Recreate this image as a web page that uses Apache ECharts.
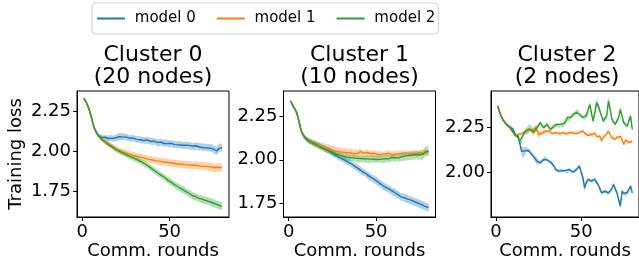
<!DOCTYPE html>
<html>
<head>
<meta charset="utf-8">
<script src="https://cdn.jsdelivr.net/npm/echarts@6/dist/echarts.min.js"></script>
<style>
html, body { margin: 0; padding: 0; background: #fff; }
#main { width: 639px; height: 264px; }
</style>
</head>
<body>
<div id="main"></div>
<script>
// communication rounds (x)
var rounds = [1,2,3,4,5,6,7,8,9,10,11,12,13,14,15,16,17,18,19,20,
	21,22,23,24,25,26,27,28,29,30,31,32,33,34,35,36,37,38,39,40,
	41,42,43,44,45,46,47,48,49,50,51,52,53,54,55,56,57,58,59,60,
	61,62,63,64,65,66,67,68,69,70,71,72,73,74,75,76,77,78,79,80];

var modelNames = ['model 0', 'model 1', 'model 2'];
var clusterTitles = ['Cluster 0\n(20 nodes)', 'Cluster 1\n(10 nodes)', 'Cluster 2\n(2 nodes)'];
var xTicks = [0, 50];
var yTicks = [[1.75, 2.00, 2.25], [1.75, 2.00, 2.25], [2.00, 2.25]];

// Cluster 0 (20 nodes)
var c0m0 = [2.331,2.312,2.288,2.258,2.218,2.176,2.142,2.118,2.102,2.092,
	2.085,2.082,2.086,2.080,2.078,2.083,2.079,2.077,2.081,2.084,
	2.090,2.093,2.088,2.091,2.087,2.083,2.080,2.078,2.082,2.076,
	2.073,2.075,2.070,2.068,2.066,2.064,2.069,2.065,2.061,2.058,
	2.062,2.057,2.054,2.051,2.055,2.050,2.047,2.052,2.046,2.044,
	2.048,2.043,2.040,2.042,2.038,2.041,2.036,2.034,2.037,2.032,
	2.035,2.030,2.031,2.027,2.033,2.029,2.025,2.028,2.022,2.026,
	2.020,2.023,2.018,2.021,2.012,2.005,2.000,2.015,2.022,2.020];
var c0m0Std = [0.006,0.006,0.007,0.008,0.009,0.010,0.011,0.012,0.013,0.014,
	0.015,0.016,0.017,0.018,0.019,0.018,0.020,0.019,0.021,0.022,
	0.024,0.023,0.021,0.022,0.020,0.021,0.019,0.020,0.021,0.020,
	0.019,0.021,0.020,0.022,0.021,0.020,0.022,0.021,0.020,0.022,
	0.021,0.020,0.022,0.023,0.021,0.020,0.022,0.021,0.023,0.022,
	0.021,0.022,0.023,0.021,0.022,0.023,0.022,0.021,0.023,0.022,
	0.023,0.022,0.021,0.023,0.024,0.022,0.023,0.022,0.024,0.023,
	0.022,0.024,0.023,0.025,0.024,0.026,0.025,0.024,0.025,0.024];
var c0m1 = [2.330,2.309,2.292,2.262,2.221,2.179,2.139,2.115,2.099,2.088,
	2.078,2.070,2.062,2.055,2.046,2.040,2.032,2.024,2.017,2.010,
	2.004,2.000,1.995,1.992,1.988,1.984,1.980,1.977,1.973,1.970,
	1.967,1.964,1.962,1.959,1.957,1.954,1.951,1.949,1.946,1.944,
	1.942,1.940,1.938,1.937,1.935,1.933,1.931,1.930,1.928,1.926,
	1.925,1.923,1.922,1.921,1.919,1.918,1.917,1.915,1.914,1.915,
	1.913,1.912,1.911,1.910,1.912,1.908,1.907,1.909,1.905,1.903,
	1.904,1.900,1.902,1.899,1.897,1.893,1.898,1.895,1.897,1.896];
var c0m1Std = [0.006,0.006,0.007,0.007,0.008,0.009,0.010,0.011,0.012,0.012,
	0.013,0.013,0.014,0.014,0.015,0.015,0.016,0.016,0.017,0.017,
	0.018,0.018,0.018,0.019,0.019,0.019,0.020,0.020,0.020,0.020,
	0.021,0.020,0.021,0.021,0.020,0.021,0.022,0.021,0.021,0.022,
	0.021,0.022,0.022,0.021,0.022,0.023,0.022,0.022,0.023,0.022,
	0.023,0.023,0.022,0.023,0.024,0.023,0.023,0.024,0.023,0.024,
	0.024,0.025,0.024,0.024,0.025,0.024,0.025,0.025,0.026,0.025,
	0.025,0.026,0.026,0.025,0.026,0.027,0.026,0.026,0.027,0.026];
var c0m2 = [2.329,2.310,2.289,2.259,2.223,2.181,2.141,2.120,2.097,2.086,
	2.075,2.065,2.056,2.048,2.040,2.033,2.026,2.018,2.011,2.005,
	1.999,1.993,1.988,1.983,1.978,1.972,1.967,1.963,1.958,1.953,
	1.948,1.942,1.937,1.931,1.926,1.919,1.911,1.906,1.896,1.888,
	1.880,1.872,1.864,1.856,1.849,1.842,1.836,1.826,1.818,1.810,
	1.803,1.796,1.788,1.781,1.775,1.768,1.762,1.756,1.749,1.742,
	1.736,1.729,1.722,1.717,1.713,1.708,1.704,1.701,1.697,1.694,
	1.690,1.687,1.683,1.679,1.675,1.670,1.666,1.662,1.657,1.655];
var c0m2Std = [0.006,0.006,0.007,0.007,0.008,0.009,0.010,0.011,0.011,0.012,
	0.012,0.013,0.013,0.013,0.014,0.014,0.014,0.015,0.015,0.015,
	0.015,0.016,0.016,0.016,0.016,0.017,0.017,0.017,0.017,0.017,
	0.018,0.018,0.017,0.018,0.018,0.018,0.019,0.018,0.019,0.019,
	0.019,0.019,0.020,0.019,0.020,0.020,0.020,0.021,0.020,0.021,
	0.021,0.020,0.021,0.021,0.022,0.021,0.022,0.022,0.021,0.022,
	0.022,0.023,0.022,0.023,0.023,0.022,0.023,0.024,0.023,0.024,
	0.024,0.023,0.024,0.025,0.024,0.025,0.025,0.024,0.025,0.025];

// Cluster 1 (10 nodes)
var c1m0 = [2.336,2.317,2.299,2.281,2.254,2.214,2.171,2.147,2.131,2.119,
	2.110,2.104,2.100,2.094,2.090,2.086,2.083,2.077,2.072,2.068,
	2.062,2.057,2.051,2.044,2.037,2.031,2.026,2.020,2.014,2.008,
	2.003,1.998,1.992,1.987,1.983,1.976,1.970,1.962,1.955,1.948,
	1.941,1.934,1.927,1.922,1.912,1.907,1.901,1.894,1.887,1.882,
	1.872,1.866,1.859,1.852,1.846,1.840,1.834,1.830,1.820,1.817,
	1.811,1.805,1.799,1.790,1.788,1.784,1.779,1.776,1.772,1.770,
	1.763,1.761,1.757,1.753,1.748,1.744,1.739,1.735,1.730,1.728];
var c1m0Std = [0.006,0.006,0.007,0.008,0.009,0.010,0.011,0.012,0.012,0.013,
	0.013,0.014,0.014,0.015,0.015,0.016,0.015,0.016,0.016,0.017,
	0.016,0.017,0.017,0.016,0.017,0.018,0.017,0.018,0.018,0.017,
	0.018,0.018,0.019,0.018,0.019,0.019,0.018,0.019,0.019,0.020,
	0.019,0.020,0.020,0.019,0.020,0.020,0.021,0.020,0.020,0.021,
	0.021,0.020,0.021,0.021,0.022,0.021,0.021,0.022,0.021,0.022,
	0.022,0.021,0.022,0.022,0.023,0.022,0.022,0.023,0.022,0.023,
	0.023,0.022,0.023,0.023,0.024,0.023,0.024,0.023,0.024,0.024];
var c1m1 = [2.334,2.319,2.297,2.283,2.256,2.216,2.169,2.149,2.129,2.121,
	2.113,2.107,2.102,2.097,2.092,2.088,2.083,2.078,2.074,2.077,
	2.068,2.064,2.066,2.058,2.055,2.057,2.050,2.052,2.046,2.049,
	2.044,2.047,2.041,2.045,2.040,2.043,2.036,2.041,2.034,2.039,
	2.046,2.035,2.038,2.033,2.040,2.031,2.036,2.030,2.037,2.032,
	2.029,2.035,2.031,2.028,2.034,2.030,2.037,2.033,2.029,2.035,
	2.032,2.038,2.034,2.031,2.037,2.033,2.039,2.035,2.032,2.038,
	2.036,2.041,2.037,2.034,2.040,2.043,2.038,2.045,2.041,2.044];
var c1m1Std = [0.006,0.006,0.007,0.008,0.009,0.010,0.011,0.012,0.013,0.014,
	0.015,0.016,0.017,0.018,0.019,0.020,0.021,0.022,0.021,0.023,
	0.022,0.024,0.023,0.022,0.024,0.023,0.022,0.024,0.023,0.022,
	0.021,0.023,0.022,0.021,0.022,0.020,0.021,0.022,0.020,0.021,
	0.020,0.021,0.019,0.020,0.021,0.019,0.020,0.018,0.019,0.020,
	0.018,0.019,0.018,0.017,0.018,0.019,0.018,0.017,0.018,0.017,
	0.016,0.017,0.018,0.017,0.016,0.017,0.016,0.015,0.016,0.017,
	0.016,0.015,0.016,0.015,0.016,0.015,0.016,0.015,0.016,0.015];
var c1m2 = [2.335,2.318,2.298,2.282,2.255,2.215,2.170,2.148,2.130,2.120,
	2.112,2.106,2.101,2.096,2.091,2.087,2.080,2.074,2.070,2.066,
	2.060,2.056,2.052,2.047,2.043,2.038,2.034,2.030,2.027,2.023,
	2.020,2.017,2.015,2.012,2.013,2.009,2.011,2.006,2.008,2.004,
	2.007,2.003,2.006,2.002,2.005,2.001,2.004,2.008,2.003,2.006,
	2.002,2.007,2.004,2.001,2.006,2.010,2.005,2.009,2.013,2.008,
	2.012,2.016,2.011,2.015,2.019,2.014,2.022,2.017,2.025,2.019,
	2.027,2.022,2.030,2.024,2.029,2.021,2.033,2.045,2.052,2.049];
var c1m2Std = [0.006,0.006,0.007,0.008,0.009,0.010,0.011,0.012,0.012,0.013,
	0.013,0.014,0.014,0.015,0.015,0.015,0.016,0.016,0.016,0.017,
	0.017,0.017,0.018,0.017,0.018,0.018,0.017,0.018,0.018,0.019,
	0.018,0.019,0.019,0.018,0.019,0.019,0.020,0.019,0.020,0.019,
	0.020,0.020,0.019,0.020,0.021,0.020,0.021,0.020,0.021,0.021,
	0.020,0.021,0.021,0.022,0.021,0.022,0.021,0.022,0.022,0.021,
	0.022,0.023,0.022,0.022,0.023,0.022,0.023,0.023,0.024,0.023,
	0.024,0.023,0.024,0.025,0.024,0.025,0.026,0.027,0.028,0.027];

// Cluster 2 (2 nodes)
var c2m0 = [2.367,2.338,2.312,2.292,2.280,2.268,2.260,2.252,2.256,2.240,
	2.215,2.205,2.200,2.160,2.118,2.110,2.120,2.128,2.122,2.118,
	2.100,2.090,2.075,2.063,2.058,2.054,2.065,2.072,2.082,2.070,
	2.063,2.058,2.054,2.035,2.017,2.010,2.008,2.014,2.010,2.008,
	2.012,2.005,2.017,2.012,2.003,2.008,2.015,2.025,2.036,2.000,
	1.971,1.916,1.945,1.962,1.958,1.953,1.960,1.962,1.948,1.934,
	1.910,1.888,1.895,1.897,1.890,1.888,1.897,1.910,1.934,1.910,
	1.888,1.850,1.815,1.897,1.885,1.879,1.890,1.897,1.925,1.888];
var c2m0Std = [0.005,0.006,0.006,0.006,0.006,0.006,0.006,0.007,0.007,0.007,
	0.007,0.008,0.010,0.015,0.025,0.030,0.022,0.012,0.010,0.009,
	0.010,0.012,0.016,0.020,0.014,0.010,0.009,0.009,0.010,0.009,
	0.008,0.009,0.008,0.009,0.010,0.009,0.008,0.009,0.008,0.008,
	0.009,0.008,0.009,0.008,0.009,0.010,0.009,0.010,0.012,0.018,
	0.025,0.022,0.014,0.010,0.009,0.010,0.009,0.010,0.011,0.010,
	0.012,0.010,0.009,0.010,0.009,0.010,0.011,0.010,0.012,0.011,
	0.010,0.015,0.020,0.013,0.010,0.011,0.010,0.011,0.012,0.011];
var c2m1 = [2.366,2.336,2.314,2.290,2.278,2.266,2.258,2.250,2.236,2.222,
	2.205,2.200,2.210,2.205,2.215,2.220,2.225,2.229,2.233,2.238,
	2.230,2.240,2.247,2.235,2.210,2.220,2.218,2.225,2.229,2.222,
	2.229,2.225,2.215,2.220,2.220,2.226,2.215,2.210,2.220,2.223,
	2.213,2.210,2.220,2.225,2.218,2.222,2.215,2.220,2.220,2.226,
	2.230,2.218,2.210,2.205,2.215,2.210,2.205,2.218,2.200,2.192,
	2.200,2.174,2.195,2.200,2.215,2.229,2.210,2.192,2.190,2.183,
	2.195,2.190,2.200,2.180,2.155,2.180,2.174,2.165,2.170,2.174];
var c2m1Std = [0.005,0.006,0.006,0.006,0.006,0.007,0.007,0.007,0.008,0.008,
	0.008,0.008,0.009,0.009,0.009,0.010,0.010,0.010,0.010,0.011,
	0.012,0.014,0.016,0.020,0.022,0.018,0.012,0.010,0.009,0.009,
	0.008,0.008,0.008,0.009,0.008,0.008,0.009,0.008,0.008,0.008,
	0.009,0.008,0.008,0.009,0.008,0.009,0.008,0.008,0.009,0.008,
	0.008,0.009,0.008,0.008,0.009,0.008,0.009,0.008,0.009,0.008,
	0.009,0.010,0.009,0.008,0.009,0.010,0.009,0.008,0.009,0.008,
	0.009,0.008,0.009,0.008,0.010,0.009,0.008,0.009,0.008,0.009];
var c2m2 = [2.368,2.337,2.311,2.291,2.279,2.267,2.259,2.249,2.237,2.224,
	2.210,2.200,2.192,2.175,2.165,2.210,2.225,2.229,2.240,2.247,
	2.235,2.220,2.235,2.247,2.262,2.275,2.260,2.247,2.258,2.266,
	2.250,2.238,2.248,2.256,2.262,2.266,2.255,2.266,2.262,2.270,
	2.285,2.303,2.295,2.305,2.318,2.321,2.333,2.340,2.320,2.312,
	2.305,2.303,2.315,2.321,2.376,2.330,2.284,2.330,2.386,2.370,
	2.340,2.310,2.284,2.300,2.312,2.395,2.350,2.293,2.280,2.266,
	2.285,2.303,2.349,2.310,2.275,2.268,2.256,2.285,2.312,2.238];
var c2m2Std = [0.005,0.006,0.006,0.006,0.006,0.007,0.007,0.007,0.008,0.008,
	0.008,0.009,0.010,0.012,0.012,0.014,0.016,0.020,0.022,0.018,
	0.020,0.016,0.014,0.018,0.012,0.010,0.011,0.010,0.012,0.010,
	0.010,0.011,0.010,0.012,0.011,0.010,0.011,0.012,0.013,0.014,
	0.016,0.018,0.014,0.012,0.011,0.012,0.011,0.012,0.011,0.012,
	0.011,0.012,0.013,0.016,0.020,0.018,0.014,0.016,0.022,0.018,
	0.014,0.012,0.013,0.012,0.014,0.022,0.018,0.013,0.012,0.011,
	0.012,0.013,0.018,0.014,0.012,0.011,0.012,0.013,0.016,0.014];

var means = [[c0m0, c0m1, c0m2], [c1m0, c1m1, c1m2], [c2m0, c2m1, c2m2]];
var stds = [[c0m0Std, c0m1Std, c0m2Std], [c1m0Std, c1m1Std, c1m2Std], [c2m0Std, c2m1Std, c2m2Std]];

// 画布布局
var colors = ['#1f77b4', '#ff7f0e', '#2ca02c'];
var bandColors = ['rgba(31,119,180,0.35)', 'rgba(255,127,14,0.35)', 'rgba(44,160,44,0.35)'];
var gridLeft = [77, 283.5, 491];
var gridWidth = 152;
var yMin = [1.5875, 1.674, 1.755];
var yMax = [2.375, 2.392, 2.45];
var font = 'DejaVu Sans';

function bandSeries(k, m, s, color) {
	return {
		type: 'custom',
		xAxisIndex: k,
		yAxisIndex: k,
		silent: true,
		z: 1,
		data: rounds.map(function (r, i) { return [r, m[i] - s[i], m[i] + s[i]]; }),
		encode: { x: 0, y: [1, 2] },
		renderItem: function (params, api) {
			if (params.dataIndex !== 0) return;
			var pts = [], i;
			for (i = 0; i < rounds.length; i++) pts.push(api.coord([rounds[i], m[i] + s[i]]));
			for (i = rounds.length - 1; i >= 0; i--) pts.push(api.coord([rounds[i], m[i] - s[i]]));
			return { type: 'polygon', shape: { points: pts }, style: { fill: color } };
		}
	};
}

var grids = [], xAxes = [], yAxes = [], titles = [], series = [];
for (var k = 0; k < 3; k++) {
	grids.push({ left: gridLeft[k], top: 91, width: gridWidth, height: 126,
		show: true, borderColor: '#000', borderWidth: 1, backgroundColor: 'transparent' });
	xAxes.push({
		type: 'value', gridIndex: k, min: -2.95, max: 83.95,
		name: 'Comm. rounds', nameLocation: 'middle', nameGap: 22,
		nameTextStyle: { fontSize: 18, fontFamily: font, color: '#000' },
		axisLine: { show: true, onZero: false, lineStyle: { color: '#000', width: 1 } },
		axisTick: { show: true, length: 4, customValues: xTicks, lineStyle: { color: '#000' } },
		axisLabel: { fontSize: 18, fontFamily: font, color: '#000', margin: 6, customValues: xTicks,
			formatter: function (v) { return String(v); } },
		splitLine: { show: false }
	});
	yAxes.push({
		type: 'value', gridIndex: k, min: yMin[k], max: yMax[k],
		name: k === 0 ? 'Training loss' : '', nameLocation: 'middle', nameGap: 52,
		nameTextStyle: { fontSize: 18, fontFamily: font, color: '#000' },
		axisLine: { show: true, onZero: false, lineStyle: { color: '#000', width: 1 } },
		axisTick: { show: true, length: 4, customValues: yTicks[k], lineStyle: { color: '#000' } },
		axisLabel: { fontSize: 18, fontFamily: font, color: '#000', margin: 6, customValues: yTicks[k],
			formatter: function (v) { return v.toFixed(2); } },
		splitLine: { show: false }
	});
	titles.push({
		text: clusterTitles[k], left: gridLeft[k] + gridWidth / 2, top: 44, textAlign: 'center', padding: 0,
		textStyle: { fontSize: 22, fontWeight: 'normal', fontFamily: font, color: '#000', lineHeight: 22 }
	});
	for (var j = 0; j < 3; j++) {
		series.push(bandSeries(k, means[k][j], stds[k][j], bandColors[j]));
	}
	for (var j2 = 0; j2 < 3; j2++) {
		(function (m, j) {
			series.push({
				name: modelNames[j], type: 'line', xAxisIndex: k, yAxisIndex: k, z: 2,
				color: colors[j], showSymbol: false, symbol: 'none',
				lineStyle: { color: colors[j], width: 1.4 },
				itemStyle: { color: colors[j] },
				data: rounds.map(function (r, i) { return [r, m[i]]; })
			});
		})(means[k][j2], j2);
	}
}

var myChart = echarts.init(document.getElementById('main'));
var option = {
	animation: false,
	backgroundColor: '#fff',
	title: titles,
	legend: {
		data: modelNames, left: 92, top: 3,
		icon: 'rect', itemWidth: 28, itemHeight: 2, itemGap: 21,
		formatter: function (name) { return ' ' + name; },
		textStyle: { fontSize: 15, fontFamily: font, color: '#000' },
		borderColor: '#d0d0d0', borderWidth: 1, borderRadius: 4,
		padding: [8, 3, 8, 5]
	},
	grid: grids,
	xAxis: xAxes,
	yAxis: yAxes,
	series: series
};
myChart.setOption(option);
</script>
</body>
</html>
